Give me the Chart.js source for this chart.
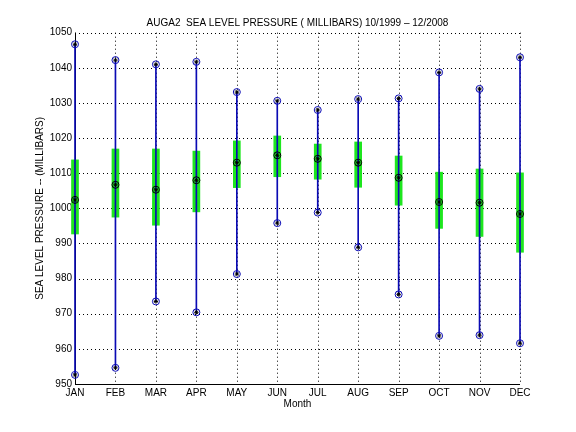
<!DOCTYPE html>
<html>
<head>
<meta charset="utf-8">
<script src="https://cdn.jsdelivr.net/npm/chart.js@4/dist/chart.umd.min.js"></script>
<style>
  html, body { margin: 0; padding: 0; background: #fff; }
  canvas { display: block; background: #fff; }
</style>
</head>
<body>
<canvas id="slpChart" width="576" height="432"></canvas>
<script>
// monthly sea level pressure stats, AUGA2 10/1999 - 12/2008 (mb)
const months = ['JAN','FEB','MAR','APR','MAY','JUN','JUL','AUG','SEP','OCT','NOV','DEC'];
const maxVals = [1046.7, 1042.2, 1041.0, 1041.7, 1033.1, 1030.6, 1028.0, 1031.1, 1031.3, 1038.7, 1034.0, 1043.0];
const minVals = [952.6, 954.6, 973.5, 970.4, 981.3, 995.8, 998.8, 988.9, 975.5, 963.7, 963.9, 961.6];
const medVals = [1002.4, 1006.7, 1005.3, 1008.0, 1013.0, 1015.1, 1014.1, 1013.0, 1008.7, 1001.8, 1001.6, 998.4];
const boxTop = [1013.8, 1016.9, 1016.9, 1016.3, 1019.2, 1020.6, 1018.3, 1018.9, 1014.9, 1010.3, 1011.2, 1010.1];
const boxBottom = [992.7, 997.5, 995.2, 999.0, 1005.9, 1009.0, 1008.3, 1006.0, 1000.9, 994.3, 992.0, 987.5];
const yTicks = [950, 960, 970, 980, 990, 1000, 1010, 1020, 1030, 1040, 1050];

const blue = '#0a0ab4';
const green = '#1ee61e';
const font = 'Liberation Sans, Arial, Helvetica, sans-serif';

const boxes = months.map((m, i) => [boxBottom[i], boxTop[i]]);
const whiskers = months.map((m, i) => [minVals[i], maxVals[i]]);

function markers(data, color, style, r, order) {
    return {
        type: 'line',
        data: data,
        showLine: false,
        pointStyle: style,
        pointRadius: r,
        pointBorderColor: color,
        pointBackgroundColor: 'rgba(0,0,0,0)',
        pointBorderWidth: 1,
        clip: false,
        order: order
    };
}

const ctx = document.getElementById('slpChart').getContext('2d');

new Chart(ctx, {
    type: 'bar',
    data: {
        labels: months,
        datasets: [
            { data: boxes, backgroundColor: green, barThickness: 7, grouped: false, clip: false, order: 5 },
            { data: whiskers, backgroundColor: blue, barThickness: 1, grouped: false, clip: false, order: 4 },
            markers(maxVals, blue, 'circle', 3.5, 3),
            markers(maxVals, '#000', 'star', 2.2, 2),
            markers(minVals, blue, 'circle', 3.5, 3),
            markers(minVals, '#000', 'star', 2.2, 2),
            markers(medVals, '#000', 'circle', 3.5, 3),
            markers(medVals, '#000', 'star', 2.2, 2)
        ]
    },
    options: {
        responsive: false,
        animation: false,
        events: [],
        layout: { padding: { left: 0, right: 56, top: 0, bottom: 0 } },
        plugins: {
            legend: { display: false },
            tooltip: { enabled: false },
            title: {
                display: true,
                fullSize: false,
                text: 'AUGA2  SEA LEVEL PRESSURE ( MILLIBARS) 10/1999 \u2013 12/2008',
                color: '#000',
                font: { family: font, size: 10, weight: 'normal' },
                padding: { top: 17, bottom: 3.7 }
            }
        },
        scales: {
            x: {
                offset: false,
                grid: { display: false, offset: false, drawTicks: false },
                border: { display: false },
                ticks: { color: '#000', font: { family: font, size: 10 }, padding: 3, maxRotation: 0, autoSkip: false },
                title: { display: true, text: 'Month', color: '#000', font: { family: font, size: 10 }, padding: { top: 0, bottom: 22 } },
                afterFit: (s) => { s.height = 48; }
            },
            y: {
                min: 950,
                max: 1050,
                afterBuildTicks: (s) => { s.ticks = yTicks.map(v => ({ value: v })); },
                grid: { display: false, drawTicks: false },
                border: { display: false },
                ticks: { color: '#000', font: { family: font, size: 10 }, padding: 3, callback: (v) => String(v) },
                title: { display: true, text: 'SEA LEVEL PRESSURE -- (MILLIBARS)', color: '#000', font: { family: font, size: 10 }, padding: { top: 34, bottom: 0 } },
                afterFit: (s) => { s.width = 75; }
            }
        }
    },
    plugins: [{
        // dotted grid at the tick positions + solid left/bottom axes (MATLAB look)
        id: 'axesLines',
        beforeDatasetsDraw(chart) {
            const a = chart.chartArea, c = chart.ctx;
            const xs = chart.scales.x, ys = chart.scales.y;
            c.save();
            c.strokeStyle = '#000';
            c.lineWidth = 1;
            c.setLineDash([1, 3]);
            c.beginPath();
            yTicks.forEach(v => {
                const y = Math.round(ys.getPixelForValue(v)) + 0.5;
                c.moveTo(a.left, y);
                c.lineTo(a.right, y);
            });
            months.forEach((m, i) => {
                const x = Math.round(xs.getPixelForValue(i)) + 0.5;
                c.moveTo(x, a.top);
                c.lineTo(x, a.bottom);
            });
            c.stroke();
            c.setLineDash([]);
            c.beginPath();
            c.moveTo(a.left + 0.5, a.top);
            c.lineTo(a.left + 0.5, a.bottom + 0.5);
            c.lineTo(a.right, a.bottom + 0.5);
            c.stroke();
            c.restore();
        }
    }]
});
</script>
</body>
</html>
